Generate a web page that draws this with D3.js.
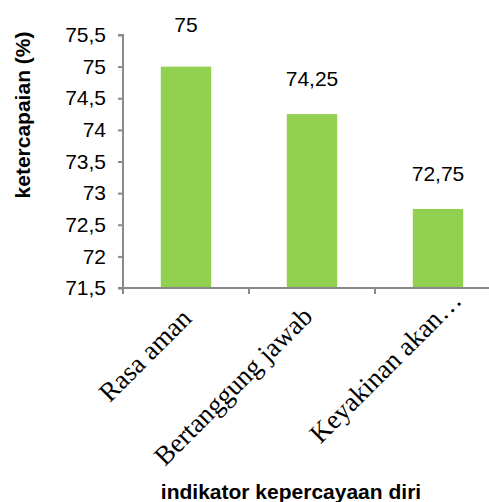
<!DOCTYPE html>
<html>
<head>
<meta charset="utf-8">
<script src="https://cdn.jsdelivr.net/npm/d3@7/dist/d3.min.js"></script>
<style>
  html, body { margin: 0; padding: 0; background: #fff; }
  svg { display: block; }
</style>
</head>
<body>
<svg id="chart" width="489" height="502"></svg>
<script>
const categories = ["Rasa aman", "Bertanggung jawab", "Keyakinan akan\u2026"];
const values = [75, 74.25, 72.75];
const yTicks = [71.5, 72, 72.5, 73, 73.5, 74, 74.5, 75, 75.5];
const xTitle = "indikator kepercayaan diri";
const yTitle = "ketercapaian (%)";

const fmt = v => String(v).replace(".", ",");

const svg = d3.select("#chart");
const plotLeft = 123, plotRight = 501, plotTop = 35, plotBottom = 288;
const axisColor = "#898989";
const barColor = "#92D050";
const sans = "Liberation Sans, Arial, sans-serif";
const serif = "Liberation Serif, Times New Roman, serif";

const x = d3.scaleBand().domain(categories).range([plotLeft, plotRight]).paddingInner(0).paddingOuter(0);
const y = d3.scaleLinear().domain([71.5, 75.5]).range([plotBottom, plotTop]);
const barW = x.bandwidth() / 2.5;   // 150% gap width

// bars
svg.append("g").selectAll("rect").data(values).join("rect")
  .attr("x", (d, i) => x(categories[i]) + (x.bandwidth() - barW) / 2)
  .attr("y", d => y(d))
  .attr("width", barW)
  .attr("height", d => y(71.5) - y(d))
  .attr("fill", barColor);

// value labels above the bars
svg.append("g").selectAll("text").data(values).join("text")
  .attr("x", (d, i) => x(categories[i]) + x.bandwidth() / 2)
  .attr("y", (d, i) => y(d) - (i === 0 ? 35 : 28))
  .attr("text-anchor", "middle")
  .attr("font-family", sans)
  .attr("font-size", 21)
  .attr("fill", "#000")
  .text(d => fmt(d));

// y axis
const yAxis = d3.axisLeft(y).tickValues(yTicks).tickSize(5).tickPadding(12).tickFormat(fmt);
const gy = svg.append("g").attr("transform", `translate(${plotLeft},0)`).call(yAxis);
gy.select(".domain").attr("stroke", axisColor).attr("stroke-width", 2).attr("d", `M-5,${plotTop}H0V${plotBottom}H-5`);
gy.selectAll(".tick line").attr("stroke", axisColor).attr("stroke-width", 2);
gy.selectAll(".tick text")
  .attr("font-family", sans)
  .attr("font-size", 21)
  .attr("fill", "#000");

// x axis
const xAxis = d3.axisBottom(x).tickSize(0).tickFormat("");
const gx = svg.append("g").attr("transform", `translate(0,${plotBottom})`).call(xAxis);
gx.select(".domain").attr("stroke", axisColor).attr("stroke-width", 2).attr("d", `M${plotLeft},0H${plotRight}`);
gx.selectAll(".tick").remove();
// tick marks on category boundaries
gx.selectAll("line.sep").data(categories).join("line")
  .attr("class", "sep")
  .attr("x1", d => x(d)).attr("x2", d => x(d))
  .attr("y1", 0).attr("y2", 6)
  .attr("stroke", axisColor).attr("stroke-width", 2);

// category labels, rotated 45 degrees; the truncated last label sits in a wider box
const labelShift = [[7, 32], [2, 30], [25, 14]];
svg.append("g").selectAll("text").data(categories).join("text")
  .attr("transform", (d, i) =>
    `translate(${x(d) + x.bandwidth() / 2 + labelShift[i][0]},${plotBottom + labelShift[i][1]}) rotate(-45)`)
  .attr("text-anchor", "end")
  .attr("font-family", serif)
  .attr("font-size", 27)
  .attr("fill", "#000")
  .text(d => d);

// axis titles
svg.append("text")
  .attr("x", 291).attr("y", 499)
  .attr("text-anchor", "middle")
  .attr("font-family", sans)
  .attr("font-weight", "bold")
  .attr("font-size", 21)
  .text(xTitle);

svg.append("text")
  .attr("transform", "translate(30,115) rotate(-90)")
  .attr("text-anchor", "middle")
  .attr("font-family", sans)
  .attr("font-weight", "bold")
  .attr("font-size", 21)
  .text(yTitle);
</script>
</body>
</html>
